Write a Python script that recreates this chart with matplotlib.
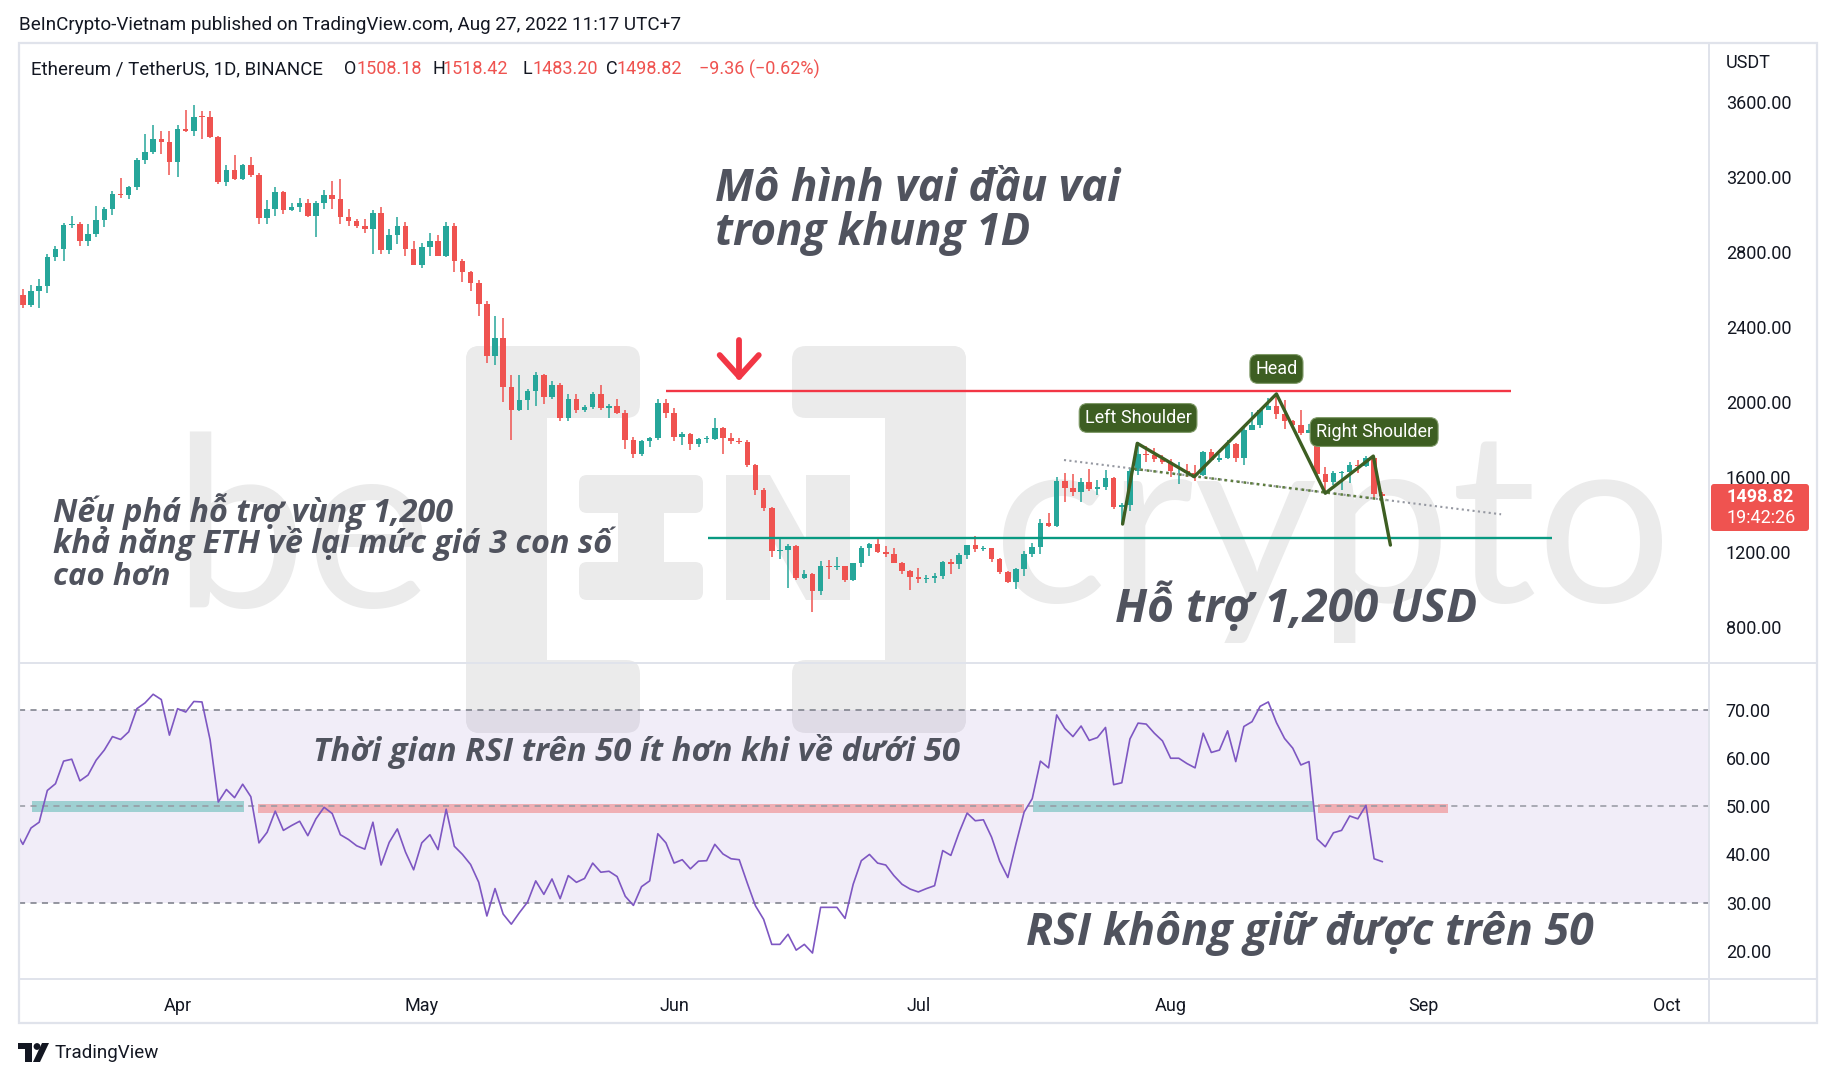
import numpy as np
import pandas as pd
import matplotlib
matplotlib.use('Agg')
import matplotlib.pyplot as plt
import matplotlib.dates as mdates
from matplotlib import font_manager as fm
from matplotlib.patches import FancyBboxPatch, Polygon, Rectangle, Circle
from matplotlib.lines import Line2D
from matplotlib.transforms import IdentityTransform
from matplotlib.ticker import FormatStrFormatter

W, H = 1832, 1080
UI = ['Roboto', 'DejaVu Sans']
plt.rcParams['font.family'] = UI


def pick_bold_italic(prefs):
    # first preferred family that really has a bold italic face
    for fam in prefs:
        for f in fm.fontManager.ttflist:
            w = f.weight
            if isinstance(w, str):
                w = fm.weight_dict.get(w, 400)
            if f.name == fam and f.style in ('italic', 'oblique') and w >= 600:
                return fam
    return 'DejaVu Sans'


VN = [pick_bold_italic(['Open Sans', 'Noto Sans', 'Lato', 'Roboto',
                        'Inter', 'DejaVu Sans']), 'DejaVu Sans']

# ---------------------------------------------------------------
# ETH/USDT daily candles, 12 Mar 2022 -> 27 Aug 2022
# ---------------------------------------------------------------
start_day = '2022-03-12'

opens = [
    # Mar 12-31
    2575, 2571, 2518, 2591, 2620, 2772, 2814, 2945, 2950, 2860,
    2895, 2970, 3030, 3110, 3105, 3145, 3290, 3330, 3400, 3385,
    # Apr
    3280, 3455, 3445, 3520, 3518, 3410, 3170, 3235, 3190, 3260,
    3210, 2980, 3030, 3120, 3020, 3040, 3060, 2990, 3060, 3105,
    3080, 2985, 2965, 2935, 2920, 3005, 2810, 2890, 2935, 2815,
    # May
    2730, 2825, 2860, 2780, 2940, 2750, 2695, 2635, 2520, 2245,
    2340, 2080, 1960, 2010, 2060, 2145, 2025, 2090, 1915, 2015,
    1960, 1975, 2045, 1970, 1980, 1940, 1795, 1725, 1790, 1810, 1995,
    # Jun
    1940, 1815, 1830, 1775, 1805, 1805, 1860, 1810, 1790, 1788,
    1665, 1530, 1435, 1205, 1210, 1235, 1065, 1085, 995, 1125,
    1123, 1125, 1050, 1140, 1225, 1245, 1200, 1190, 1145, 1100,
    # Jul
    1070, 1060, 1065, 1075, 1150, 1135, 1185, 1240, 1215, 1220,
    1165, 1095, 1040, 1110, 1190, 1230, 1355, 1340, 1580, 1540,
    1520, 1575, 1535, 1550, 1595, 1440, 1450, 1635, 1725, 1720, 1695,
    # Aug 1-27
    1680, 1630, 1632, 1620, 1610, 1735, 1690, 1700, 1775, 1700,
    1850, 1880, 1955, 1980, 1935, 1900, 1875, 1835, 1850, 1615,
    1575, 1620, 1625, 1665, 1660, 1700, 1508.18,
]
highs = [
    2610, 2600, 2625, 2655, 2790, 2833, 2955, 2990, 2960, 2950,
    3045, 3040, 3125, 3195, 3150, 3300, 3425, 3475, 3445, 3445,
    3475, 3555, 3580, 3550, 3550, 3415, 3260, 3315, 3270, 3305,
    3220, 3075, 3145, 3125, 3060, 3085, 3080, 3070, 3130, 3175,
    3190, 3030, 2975, 2975, 3020, 3040, 2920, 2985, 2960, 2860,
    2845, 2900, 2890, 2960, 2955, 2760, 2700, 2650, 2540, 2460,
    2450, 2145, 2145, 2070, 2160, 2150, 2110, 2100, 2040, 2045,
    1985, 2055, 2090, 1990, 2015, 1955, 1815, 1795, 1815, 2015, 2015,
    1970, 1840, 1835, 1810, 1820, 1915, 1865, 1835, 1810, 1800,
    1670, 1540, 1440, 1275, 1245, 1240, 1105, 1090, 1155, 1160,
    1175, 1125, 1140, 1235, 1250, 1280, 1235, 1220, 1150, 1105,
    1115, 1080, 1090, 1155, 1165, 1195, 1240, 1285, 1235, 1225,
    1170, 1100, 1115, 1205, 1250, 1375, 1410, 1600, 1620, 1615,
    1595, 1645, 1585, 1640, 1600, 1460, 1650, 1785, 1765, 1755, 1720,
    1695, 1680, 1670, 1665, 1740, 1750, 1725, 1800, 1780, 1865,
    1945, 1960, 2020, 2030, 2010, 1905, 1960, 1885, 1850, 1655,
    1630, 1630, 1680, 1690, 1715, 1710, 1518.42,
]
lows = [
    2545, 2502, 2505, 2500, 2580, 2750, 2750, 2925, 2830, 2830,
    2880, 2930, 2995, 3085, 3080, 3130, 3270, 3320, 3320, 3210,
    3200, 3440, 3415, 3400, 3405, 3160, 3150, 3180, 3185, 3200,
    2950, 2950, 2990, 3000, 3015, 3010, 2985, 2880, 3030, 3030,
    2950, 2940, 2925, 2900, 2790, 2790, 2790, 2840, 2780, 2730,
    2715, 2780, 2780, 2770, 2690, 2640, 2590, 2460, 2210, 2195,
    2000, 1800, 1950, 1955, 1980, 1990, 2015, 1900, 1900, 1940,
    1945, 1965, 1960, 1915, 1935, 1750, 1700, 1710, 1760, 1795, 1915,
    1790, 1770, 1745, 1760, 1780, 1800, 1725, 1775, 1775, 1655,
    1505, 1420, 1175, 1165, 1010, 1050, 1060, 880, 970, 1060,
    1105, 1040, 1045, 1120, 1180, 1195, 1175, 1140, 1085, 1000,
    1035, 1035, 1035, 1055, 1085, 1110, 1165, 1200, 1205, 1150,
    1085, 1035, 1005, 1075, 1175, 1190, 1335, 1335, 1470, 1500,
    1465, 1525, 1505, 1530, 1430, 1355, 1420, 1610, 1680, 1680, 1670,
    1600, 1565, 1600, 1580, 1605, 1690, 1680, 1695, 1680, 1665,
    1850, 1860, 1955, 1910, 1855, 1855, 1825, 1835, 1600, 1520,
    1560, 1530, 1570, 1620, 1655, 1490, 1483.20,
]
closes = [
    2571, 2518, 2591, 2620, 2772, 2814, 2945, 2950, 2860, 2895,
    2970, 3030, 3110, 3105, 3145, 3290, 3330, 3400, 3385, 3280,
    3455, 3445, 3520, 3518, 3410, 3170, 3235, 3190, 3260, 3210,
    2980, 3030, 3120, 3020, 3040, 3060, 2990, 3060, 3105, 3080,
    2985, 2965, 2935, 2920, 3005, 2810, 2890, 2935, 2815, 2730,
    2825, 2860, 2780, 2940, 2750, 2695, 2635, 2520, 2245, 2340,
    2080, 1960, 2010, 2060, 2145, 2025, 2090, 1915, 2015, 1960,
    1975, 2045, 1970, 1980, 1940, 1795, 1725, 1790, 1810, 1995, 1940,
    1815, 1830, 1775, 1805, 1805, 1860, 1810, 1790, 1788, 1665,
    1530, 1435, 1205, 1210, 1235, 1065, 1085, 995, 1125, 1123,
    1125, 1050, 1140, 1225, 1245, 1200, 1190, 1145, 1100, 1070,
    1060, 1065, 1075, 1150, 1135, 1185, 1240, 1215, 1220, 1165,
    1095, 1040, 1110, 1190, 1230, 1355, 1340, 1580, 1540, 1520,
    1575, 1535, 1550, 1595, 1440, 1450, 1635, 1725, 1720, 1695, 1680,
    1630, 1632, 1620, 1610, 1735, 1690, 1700, 1775, 1700, 1850,
    1880, 1955, 1980, 1935, 1900, 1875, 1835, 1850, 1615, 1575,
    1620, 1625, 1665, 1660, 1700, 1510, 1498.82,
]

# RSI(14), same days
rsi = [
    45.0, 42.1, 45.5, 46.7, 53.3, 54.7, 59.4, 59.8, 55.3, 56.5,
    59.6, 61.7, 64.5, 63.9, 65.5, 70.3, 71.5, 73.3, 72.2, 64.8,
    70.3, 69.6, 71.8, 71.7, 63.8, 50.9, 53.5, 51.8, 54.6, 52.0,
    42.4, 44.6, 49.0, 45.0, 46.0, 46.9, 43.9, 47.4, 49.8, 48.5,
    44.1, 43.1, 41.8, 41.1, 46.7, 37.8, 42.5, 45.3, 40.5, 36.8,
    42.4, 44.1, 41.0, 49.4, 41.7, 40.0, 37.9, 34.2, 27.2, 32.9,
    27.6, 25.5, 27.9, 30.1, 34.5, 31.7, 34.9, 30.8, 35.6, 34.2,
    35.0, 38.2, 36.3, 36.5, 35.4, 31.3, 29.4, 33.3, 34.5, 44.3,
    42.4, 38.2, 38.9, 37.0, 38.6, 38.7, 42.1, 40.1, 39.1, 38.9,
    34.0, 29.3, 26.5, 21.3, 21.3, 23.4, 20.1, 21.3, 19.5, 29.0,
    29.0, 29.0, 26.7, 33.8, 38.7, 40.0, 38.2, 37.8, 35.6, 33.8,
    32.8, 32.2, 32.9, 33.5, 40.8, 39.8, 44.5, 48.6, 47.0, 47.2,
    43.6, 38.6, 35.2, 42.2, 48.8, 51.6, 59.4, 58.0, 69.0, 66.2,
    64.5, 66.7, 63.7, 64.3, 66.4, 54.5, 54.9, 64.0, 67.3, 67.1,
    65.2, 63.6, 60.0, 60.0, 58.9, 58.0, 65.2, 61.2, 61.7, 65.7,
    59.3, 66.6, 67.6, 70.8, 71.7, 67.4, 64.1, 62.1, 58.6, 59.3,
    43.2, 41.6, 44.5, 45.0, 48.0, 47.4, 50.2, 39.1, 38.5,
]

price_ticks = [800, 1200, 1600, 2000, 2400, 2800, 3200, 3600]
rsi_ticks = [20, 30, 40, 50, 60, 70]

# drawings (x in days from 1 Apr 2022)
support_price, support_days = 1275, [65.2, 168.9]
resist_price, resist_days = 2057, [60.0, 163.8]
hs_days = [116.1, 117.9, 124.9, 135.0, 141.0, 146.9, 149.0]
hs_prices = [1350, 1780, 1602, 2043, 1514, 1712, 1238]
neck_days, neck_prices = [108.9, 162.6], [1691, 1402]
neck2_days, neck2_prices = [117.5, 148.5], [1644, 1478]
arrow_shaft = ([69.0, 69.0], [2330, 2135])
arrow_head = ([66.6, 69.0, 71.4], [2250, 2135, 2250])
hs_labels = [('Left Shoulder', 118.0, 1915), ('Head', 135.0, 2176),
             ('Right Shoulder', 147.0, 1840)]
# RSI highlight boxes: (start day, end day, low, high, colour)
rsi_boxes = [(-17.9, 8.2, 48.9, 51.2, '#26a69a'),
             (9.9, 104.0, 48.7, 50.5, '#ef5350'),
             (105.1, 139.6, 48.9, 51.2, '#26a69a'),
             (140.1, 156.1, 48.7, 50.5, '#ef5350')]

dates = pd.date_range(start_day, periods=len(closes), freq='D')
xs = mdates.date2num(dates)
o = np.array(opens, float)
hi = np.array(highs, float)
lo = np.array(lows, float)
c = np.array(closes, float)
up = c >= o
col = np.where(up, '#26a69a', '#ef5350')
body_lo = np.minimum(o, c)
body_h = np.maximum(np.abs(c - o), 5)

apr1 = mdates.date2num(pd.Timestamp('2022-04-01'))


def dx(d):
    return apr1 + np.asarray(d, float)


T = IdentityTransform()


def P(x, y):
    return x, H - y


fig = plt.figure(figsize=(W / 100, H / 100), dpi=100)
fig.patch.set_facecolor('white')
renderer = fig.canvas.get_renderer()


def fit(t, width):
    # scale a text so its drawn width matches the reference
    bb = t.get_window_extent(renderer)
    t.set_fontsize(t.get_fontsize() * width / bb.width)


# ---------------- watermark (behind everything) ----------------
wm = '#ebebeb'


def wbox(x0, y0, x1, y1, r=14):
    fig.add_artist(FancyBboxPatch(P(x0, y1), x1 - x0, y1 - y0,
                                  boxstyle='round,pad=0,rounding_size=%d' % r,
                                  fc=wm, ec='none', transform=T, zorder=-2))


wbox(466, 346, 640, 418)
wbox(466, 346, 547, 733)
wbox(466, 660, 640, 733)
wbox(792, 346, 966, 418)
wbox(885, 346, 966, 733)
wbox(792, 660, 966, 733)
wbox(579, 475, 703, 513, 8)
wbox(618, 475, 664, 600, 4)
wbox(579, 562, 703, 600, 8)
n_shape = [(726, 475), (770, 475), (806, 540), (806, 475), (850, 475),
           (850, 600), (806, 600), (770, 535), (770, 600), (726, 600)]
fig.add_artist(Polygon([P(a, b) for a, b in n_shape], closed=True, fc=wm,
                       ec='none', transform=T, zorder=-2))
fig.text(*P(172, 607), 'be', transform=T, fontsize=172, color=wm,
         family=['Lato', 'DejaVu Sans'], va='baseline', zorder=-2)
fig.text(*P(993, 602), 'crypto', transform=T, fontsize=172, color=wm,
         family=['Lato', 'DejaVu Sans'], va='baseline', zorder=-2)

# ---------------- price pane ----------------
ax = fig.add_axes([19 / W, 1 - 663 / H, 1690 / W, 620 / H])
ax.set_facecolor('none')
ax.vlines(xs, lo, hi, colors=col, linewidth=1.1, zorder=3)
ax.bar(xs, body_h, bottom=body_lo, width=0.68, color=col, linewidth=0,
       zorder=4)
ax.hlines(support_price, dx(support_days[0]), dx(support_days[1]),
          color='#089981', lw=1.7, zorder=5)
ax.hlines(resist_price, dx(resist_days[0]), dx(resist_days[1]),
          color='#f23645', lw=1.7, zorder=5)
ax.plot(dx(neck_days), neck_prices, color='#9598a1', lw=1.5,
        ls=(0, (1, 1.6)), zorder=5)
ax.plot(dx(neck2_days), neck2_prices, color='#5d7d3c', lw=1.8,
        ls=(0, (1, 1.6)), zorder=5)
ax.plot(dx(hs_days), hs_prices, color='#3d5e22', lw=2.4,
        solid_joinstyle='round', solid_capstyle='round', zorder=6)
ax.plot(dx(arrow_shaft[0]), arrow_shaft[1], color='#f23645', lw=4.2,
        solid_capstyle='round', zorder=6)
ax.plot(dx(arrow_head[0]), arrow_head[1], color='#f23645', lw=4.2,
        solid_capstyle='round', solid_joinstyle='round', zorder=6)
for txt, d, p in hs_labels:
    ax.text(dx(d), p, txt, ha='center', va='center', color='white',
            fontsize=13, zorder=7,
            bbox=dict(boxstyle='round,pad=0.3,rounding_size=0.45',
                      fc='#3d5e22', ec='#7f9a68', lw=0.8))

ax.set_xlim(dx(-19.48), dx(188.14))
ax.set_ylim(610, 3912)
ax.yaxis.tick_right()
ax.set_yticks(price_ticks)
ax.yaxis.set_major_formatter(FormatStrFormatter('%.2f'))
ax.tick_params(axis='y', length=0, pad=12, labelsize=13,
               labelcolor='#131722')
ax.tick_params(axis='x', bottom=False, labelbottom=False)
for s in ax.spines.values():
    s.set_visible(False)

# ---------------- RSI pane ----------------
ar = fig.add_axes([19 / W, 1 - 979 / H, 1690 / W, 316 / H])
ar.set_facecolor('none')
ar.axhspan(30, 70, color='#7e57c2', alpha=0.1, lw=0, zorder=1)
for d0, d1, b0, b1, cc in rsi_boxes:
    ar.fill_between(dx([d0, d1]), b0, b1, color=cc, alpha=0.4, lw=0,
                    zorder=2)
for lvl, cc in ((70, '#787b86'), (50, '#9598a1'), (30, '#787b86')):
    ar.axhline(lvl, color=cc, lw=1.1, ls=(0, (4, 3.5)), zorder=3)
ar.plot(xs, rsi, color='#7e57c2', lw=1.2, zorder=4)
ar.set_xlim(dx(-19.48), dx(188.14))
ar.set_ylim(14.1, 79.8)
ar.yaxis.tick_right()
ar.set_yticks(rsi_ticks)
ar.yaxis.set_major_formatter(FormatStrFormatter('%.2f'))
ar.tick_params(axis='y', length=0, pad=12, labelsize=13,
               labelcolor='#131722')
ar.xaxis.set_major_locator(mdates.MonthLocator())
ar.xaxis.set_major_formatter(mdates.DateFormatter('%b'))
ar.tick_params(axis='x', length=0, pad=13, labelsize=13,
               labelcolor='#131722')
for s in ar.spines.values():
    s.set_visible(False)

# ---------------- frame and separators ----------------
fc = '#e0e3eb'
fig.add_artist(Rectangle(P(19, 1023), 1798, 980, fill=False, ec=fc, lw=1.6,
                         transform=T, zorder=4))
for xa, ya, xb, yb in ((19, 663, 1817, 663), (19, 979, 1817, 979),
                       (1709, 43, 1709, 1023)):
    fig.add_artist(Line2D([xa, xb], [H - ya, H - yb], color=fc, lw=1.4,
                          transform=T, zorder=4))

# ---------------- header texts ----------------
dark = '#131722'
red = '#ef5350'
hdr = fig.text(*P(19, 25), 'BeInCrypto-Vietnam published on TradingView.com, '
               'Aug 27, 2022 11:17 UTC+7', transform=T, fontsize=13,
               color=dark, va='center')
fit(hdr, 664)
legend_parts = [(31, 'Ethereum / TetherUS, 1D, BINANCE', dark),
                (344, 'O', dark), (356, '1508.18', red),
                (432, 'H', dark), (443, '1518.42', red),
                (523, 'L', dark), (533, '1483.20', red),
                (606, 'C', dark), (617, '1498.82', red),
                (699, '\u22129.36 (\u22120.62%)', red)]
for xp, txt, cc in legend_parts:
    t = fig.text(*P(xp, 69), txt, transform=T, fontsize=13, color=cc,
                 va='center')
    if xp == 31:
        fit(t, 293)
fig.text(*P(1726, 63), 'USDT', transform=T, fontsize=13, color=dark,
         va='center')

# last price tag
fig.add_artist(FancyBboxPatch(P(1711, 531), 98, 47,
                              boxstyle='round,pad=0,rounding_size=3',
                              fc='#ef5350', ec='none', transform=T, zorder=6))
fig.text(*P(1726, 497), '1498.82', transform=T, fontsize=13,
         color='white', va='center', fontweight='bold', zorder=7)
fig.text(*P(1726, 518), '19:42:26', transform=T, fontsize=13,
         color='white', va='center', zorder=7)

# ---------------- annotation texts ----------------
ink = '#50535e'
big = dict(transform=T, color=ink, family=VN, style='italic',
           fontweight='bold', va='baseline', zorder=8)
notes = [
    (715, 201, 'Mô hình vai đầu vai', 30, 406),
    (715, 245, 'trong khung 1D', 30, 315),
    (53, 522, 'Nếu phá hỗ trợ vùng 1,200', 22, 399),
    (53, 553, 'khả năng ETH về lại mức giá 3 con số', 22, 557),
    (53, 585, 'cao hơn', 22, 117),
    (1115, 622, 'Hỗ trợ 1,200 USD', 29, 362),
    (313, 761, 'Thời gian RSI trên 50 ít hơn khi về dưới 50', 22, 644),
    (1026, 945, 'RSI không giữ được trên 50', 29, 568),
]
for xp, yp, txt, fs, wd in notes:
    t = fig.text(*P(xp, yp), txt, fontsize=fs, **big)
    fit(t, wd)

# ---------------- TradingView footer ----------------
fig.add_artist(Rectangle(P(18, 1049), 14, 6, fc=dark, ec='none',
                         transform=T))
fig.add_artist(Rectangle(P(25, 1062), 7, 19, fc=dark, ec='none',
                         transform=T))
fig.add_artist(Circle(P(37, 1046.5), 3.4, fc=dark, ec='none', transform=T))
fig.add_artist(Polygon([P(42, 1043), P(49, 1043), P(40, 1062), P(33, 1062)],
                       closed=True, fc=dark, ec='none', transform=T))
fig.text(*P(55, 1053), 'TradingView', transform=T, fontsize=13.5,
         color=dark, va='center')

fig.savefig('out.png', dpi=100, facecolor='white')
